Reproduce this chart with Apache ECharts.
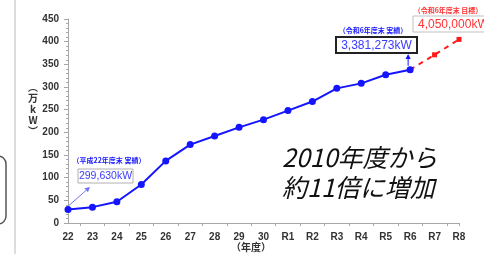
<!DOCTYPE html>
<html>
<head>
<meta charset="utf-8">
<script src="https://cdn.jsdelivr.net/npm/echarts@6/dist/echarts.min.js"></script>
<style>
  html, body { margin: 0; padding: 0; background: #fff; }
  #chart { width: 484px; height: 254px; }
</style>
</head>
<body>
<div id="chart"></div>
<script>
// 年度
var years = ['22', '23', '24', '25', '26', '27', '28', '29', '30', 'R1', 'R2', 'R3', 'R4', 'R5', 'R6', 'R7', 'R8'];
// 実績（万kW）
var actual = [30.0, 35, 47, 85, 137, 173, 192, 211, 228, 248, 268, 297, 308, 327, 338.1, null, null];
// 目標（万kW）
var target = [null, null, null, null, null, null, null, null, null, null, null, null, null, null, 338.1, 371, 405];
var yTicks = [0, 50, 100, 150, 200, 250, 300, 350, 400, 450];

// 目盛り用の補助軸（ラベル間に目盛り）
var halfSteps = [];
for (var i = 0; i < years.length; i++) {
    halfSteps.push(years[i]);
    if (i < years.length - 1) halfSteps.push(years[i] + '+');
}

var labelFont = '"Liberation Sans", Arial, sans-serif';
var jpFont = '"Noto Sans CJK JP", sans-serif';

var myChart = echarts.init(document.getElementById('chart'));

var option = {
    animation: false,
    grid: { left: 68, right: 25, top: 19, bottom: 31 },
    xAxis: [{
        type: 'category',
        data: years,
        boundaryGap: false,
        axisLine: { show: true, lineStyle: { color: '#a6a6a6', width: 1 } },
        axisTick: { show: false },
        axisLabel: { color: '#333', fontWeight: 'bold', fontSize: 10, fontFamily: labelFont, margin: 9, interval: 0 },
        splitLine: { show: false }
    }, {
        type: 'category',
        data: halfSteps,
        boundaryGap: false,
        position: 'bottom',
        axisLine: { show: false },
        axisLabel: { show: false },
        axisTick: {
            show: true,
            length: 3,
            lineStyle: { color: '#a6a6a6' },
            interval: function (idx) { return idx % 2 === 1 || idx === halfSteps.length - 1; }
        },
        splitLine: { show: false }
    }],
    yAxis: {
        type: 'value',
        min: yTicks[0],
        max: yTicks[yTicks.length - 1],
        interval: 50,
        axisLine: { show: true, lineStyle: { color: '#a6a6a6', width: 1 } },
        axisTick: { show: true, length: 4, lineStyle: { color: '#a6a6a6' } },
        minorTick: { show: true, splitNumber: 5, length: 2, lineStyle: { color: '#a6a6a6' } },
        axisLabel: { color: '#333', fontWeight: 'bold', fontSize: 10, fontFamily: labelFont, margin: 9 },
        splitLine: { show: false }
    },
    series: [{
        name: '目標',
        type: 'line',
        data: target,
        connectNulls: false,
        symbol: 'rect',
        symbolSize: 5,
        showAllSymbol: true,
        lineStyle: { color: '#ff1a1a', width: 2, type: [5, 5] },
        itemStyle: { color: '#ff1a1a' }
    }, {
        name: '実績',
        type: 'line',
        data: actual,
        symbol: 'circle',
        symbolSize: 7,
        showAllSymbol: true,
        lineStyle: { color: '#1414ff', width: 2 },
        itemStyle: { color: '#1414ff' }
    }]
};

myChart.setOption(option);

// 注記（データ点に合わせて配置）
var p22 = myChart.convertToPixel({ xAxisIndex: 0, yAxisIndex: 0 }, [0, actual[0]]);
var pR6 = myChart.convertToPixel({ xAxisIndex: 0, yAxisIndex: 0 }, [14, actual[14]]);

function arrow(x1, y1, x2, y2, color, w) {
    var ang = Math.atan2(y2 - y1, x2 - x1);
    var L = 5, H = 2.6;
    var bx = x2 - L * Math.cos(ang), by = y2 - L * Math.sin(ang);
    return [{
        type: 'line',
        shape: { x1: x1, y1: y1, x2: bx, y2: by },
        style: { stroke: color, lineWidth: w }
    }, {
        type: 'polygon',
        shape: { points: [[x2, y2], [bx - H * Math.sin(ang), by + H * Math.cos(ang)], [bx + H * Math.sin(ang), by - H * Math.cos(ang)]] },
        style: { fill: color }
    }];
}

var graphics = [
    // 左端の縦線と枠
    { type: 'line', shape: { x1: 15, y1: 0, x2: 15, y2: 254 }, style: { stroke: '#d0d0d0', lineWidth: 1.5 } },
    { type: 'rect', shape: { x: -20, y: 156, width: 26, height: 68, r: 8 }, style: { stroke: '#555', lineWidth: 1.5, fill: 'none' } },
    // 軸名
    { type: 'text', x: 33, y: 109, style: { text: '︵\n万\nk\nW\n︶', fill: '#333', font: 'bold 10px ' + jpFont, align: 'center', verticalAlign: 'middle', lineHeight: 11 } },
    { type: 'text', x: 251, y: 247, style: { text: '（年度）', fill: '#333', font: 'bold 10px ' + jpFont, align: 'center', verticalAlign: 'middle' } },
    // 平成22年度末
    { type: 'text', x: 109, y: 160, style: { text: '（平成22年度末 実績）', fill: '#1414ff', font: 'bold 7px ' + jpFont, align: 'center', verticalAlign: 'middle' } },
    { type: 'rect', shape: { x: 78, y: 169, width: 55, height: 14 }, style: { fill: '#fff', stroke: '#b0b0b0', lineWidth: 1 } },
    { type: 'text', x: 105.5, y: 176.5, style: { text: '299,630kW', fill: '#3b3bff', font: '10.5px ' + labelFont, align: 'center', verticalAlign: 'middle' } },
    // 令和6年度末 実績
    { type: 'text', x: 373, y: 30, style: { text: '（令和6年度末 実績）', fill: '#1414ff', font: 'bold 7px ' + jpFont, align: 'center', verticalAlign: 'middle' } },
    { type: 'rect', shape: { x: 336, y: 37, width: 81, height: 16 }, style: { fill: '#fff', stroke: '#222', lineWidth: 2 } },
    { type: 'text', x: 376.5, y: 45.5, style: { text: '3,381,273kW', fill: '#3b3bff', font: '12px ' + labelFont, align: 'center', verticalAlign: 'middle' } },
    // 令和6年度末 目標
    { type: 'text', x: 448, y: 10, style: { text: '（令和6年度末 目標）', fill: '#ff3333', font: 'bold 7px ' + jpFont, align: 'center', verticalAlign: 'middle' } },
    { type: 'rect', shape: { x: 413, y: 16, width: 80, height: 16 }, style: { fill: '#fff', stroke: '#c0c0c0', lineWidth: 1 } },
    { type: 'text', x: 418, y: 24.5, style: { text: '4,050,000kW', fill: '#ff3333', font: '12px ' + labelFont, align: 'left', verticalAlign: 'middle' } },
    // 大きい注記
    { type: 'text', x: 282, y: 157, style: { text: '2010年度から', fill: '#111', font: 'italic 25px ' + jpFont, align: 'left', verticalAlign: 'middle' } },
    { type: 'text', x: 282, y: 187, style: { text: '約11倍に増加', fill: '#111', font: 'italic 25px ' + jpFont, align: 'left', verticalAlign: 'middle' } }
];

graphics = graphics.concat(arrow(p22[0] + 1, p22[1] - 4, p22[0] + 22, 187, '#6f6fff', 1));
graphics = graphics.concat(arrow(pR6[0] - 2, pR6[1] - 4, pR6[0] - 2, 54, '#1414ff', 1));

myChart.setOption({ graphic: graphics });

window.addEventListener('resize', function () {
    myChart.resize();
});
</script>
</body>
</html>
